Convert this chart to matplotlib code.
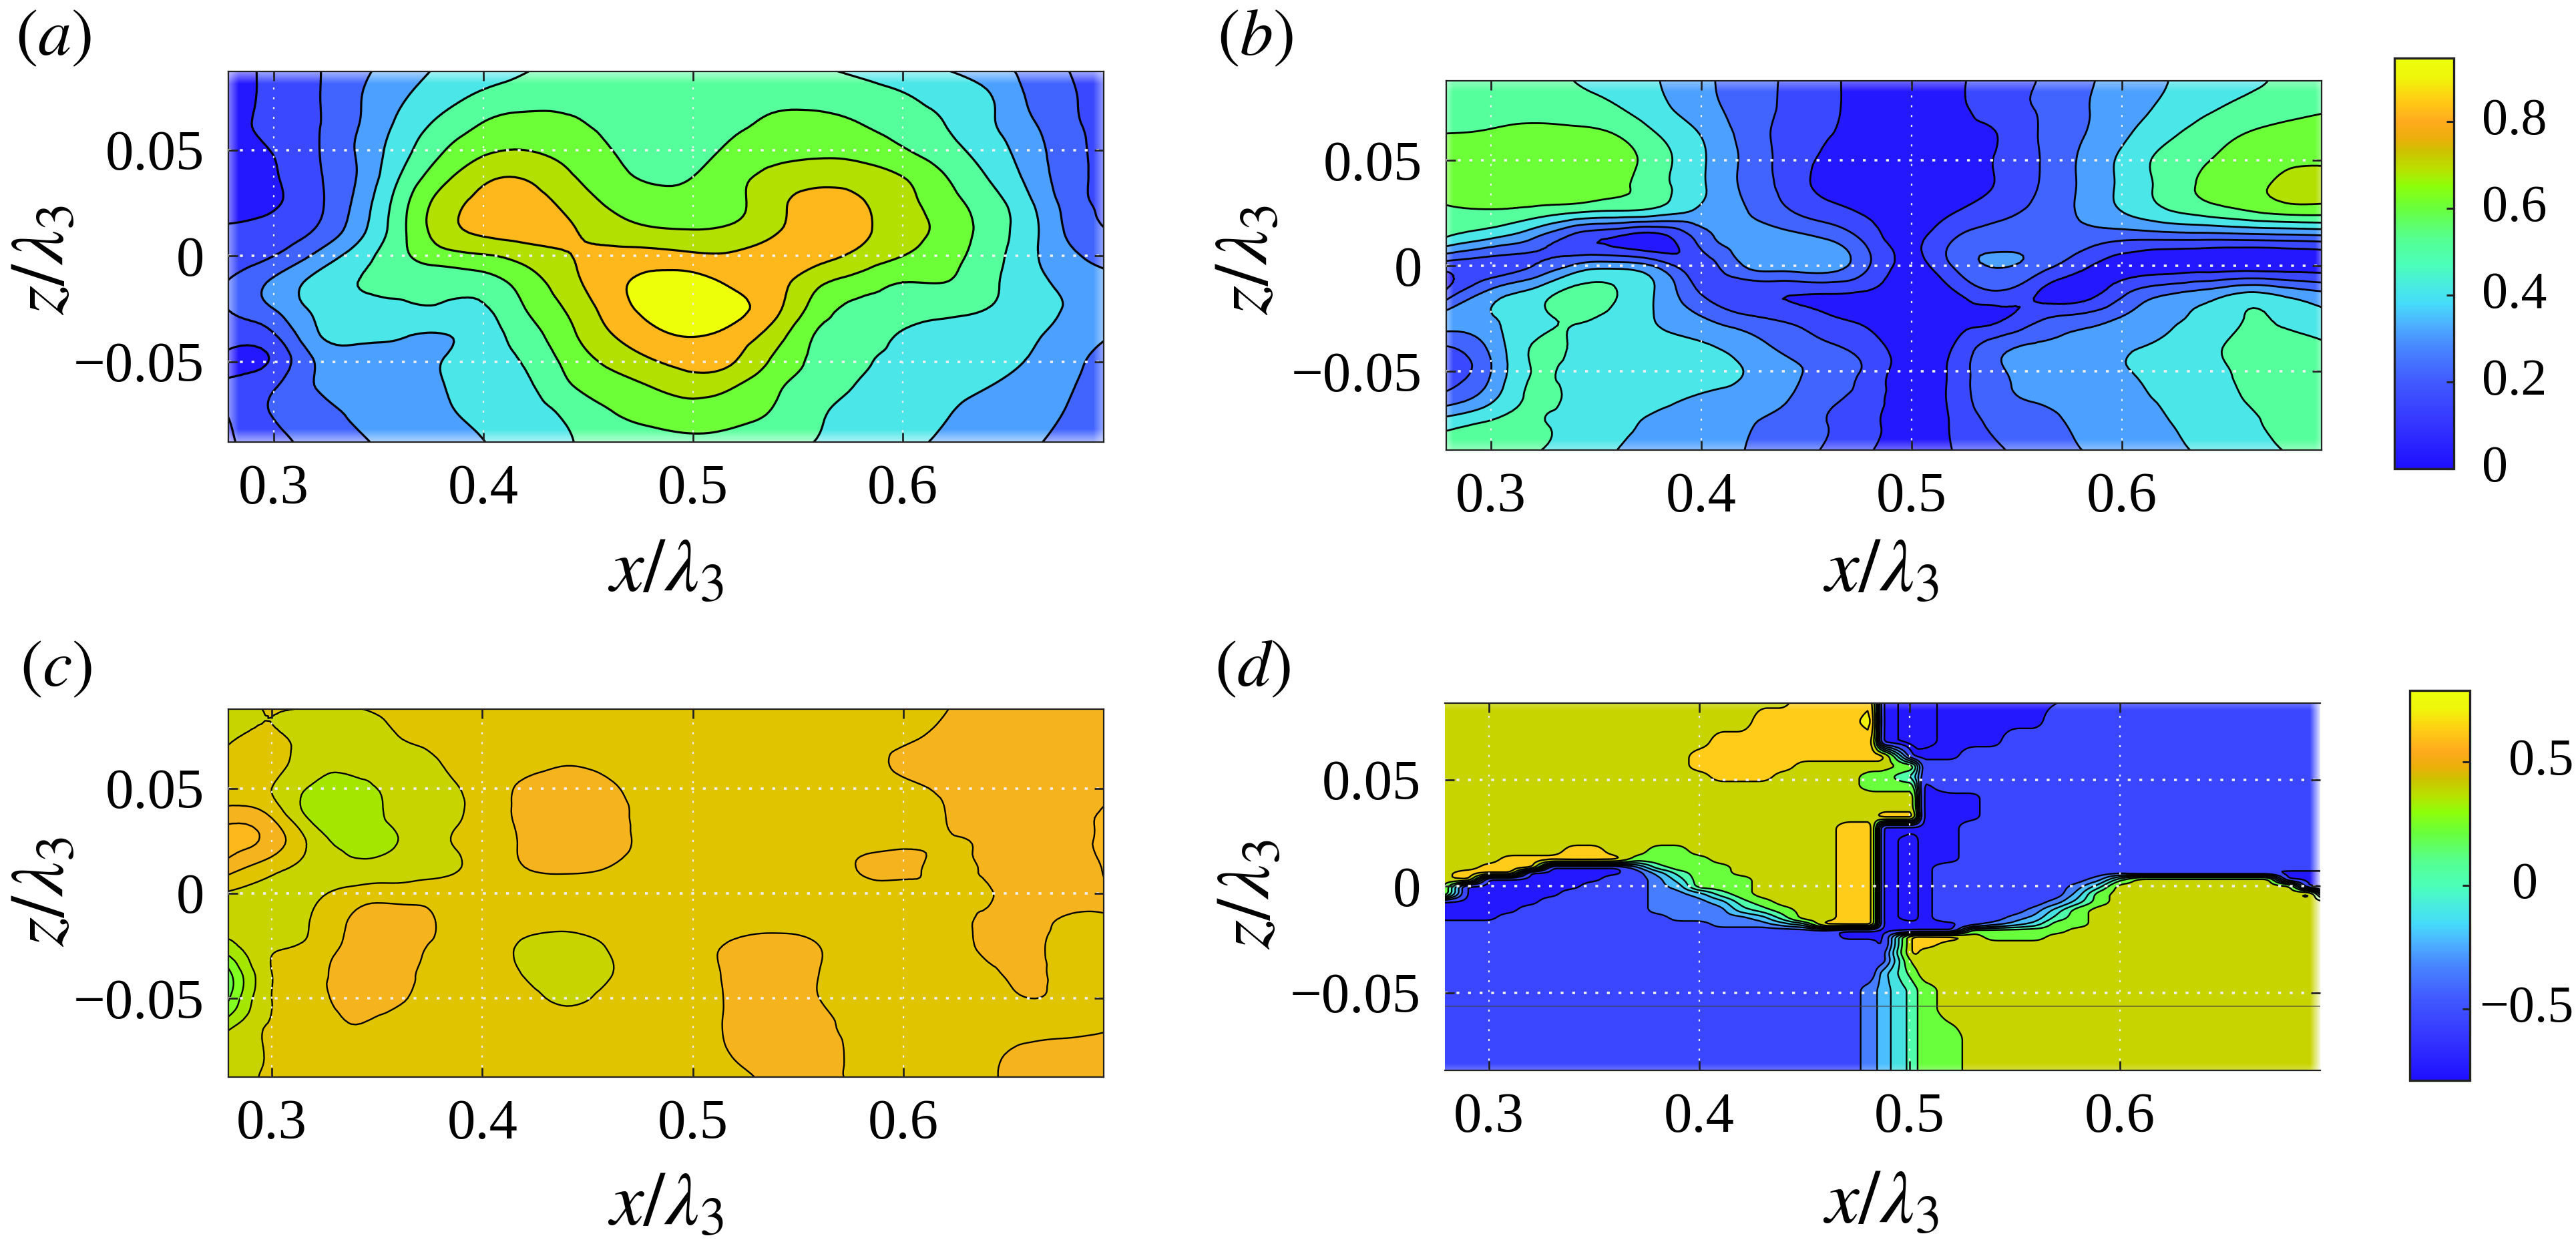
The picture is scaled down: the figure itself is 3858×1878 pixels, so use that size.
#!/usr/bin/env python3
import numpy as np
import matplotlib
matplotlib.use("Agg")
import matplotlib.pyplot as plt
import matplotlib.tri as tri
from matplotlib.cm import ScalarMappable
from matplotlib.colors import LinearSegmentedColormap, Normalize

plt.rcParams['font.family'] = ['Liberation Serif', 'DejaVu Serif']
plt.rcParams['mathtext.fontset'] = 'stix'

W, H = 3858, 1878

x_grid = [0.275, 0.30, 0.32, 0.34, 0.36, 0.38, 0.40, 0.42, 0.44, 0.46, 0.48,
          0.50, 0.52, 0.54, 0.56, 0.58, 0.60, 0.62, 0.64, 0.66, 0.68, 0.70]
z_grid = [0.09, 0.075, 0.0625, 0.05, 0.0375, 0.025, 0.0125, 0.0,
          -0.0125, -0.025, -0.0375, -0.05, -0.0625, -0.075, -0.09]

field_a = [
    [.07, .12, .19, .27, .34, .41, .45, .49, .51, .52, .53, .53, .53, .52, .50, .47, .44, .39, .33, .27, .195, .15],
    [.07, .12, .19, .29, .385, .46, .52, .55, .57, .58, .585, .585, .58, .575, .565, .54, .51, .47, .415, .29, .21, .15],
    [.07, .125, .19, .295, .42, .525, .605, .64, .615, .585, .565, .565, .585, .62, .63, .60, .555, .50, .42, .32, .22, .16],
    [.07, .105, .19, .31, .455, .59, .68, .70, .665, .605, .545, .55, .63, .67, .68, .665, .61, .54, .455, .35, .235, .16],
    [.06, .09, .185, .305, .50, .665, .775, .79, .715, .645, .58, .60, .675, .725, .755, .745, .70, .605, .50, .375, .24, .165],
    [.07, .09, .175, .33, .55, .74, .83, .85, .77, .69, .65, .64, .68, .77, .85, .81, .735, .645, .55, .42, .255, .165],
    [.105, .13, .205, .36, .565, .75, .825, .85, .815, .75, .71, .70, .72, .79, .85, .82, .745, .67, .565, .44, .275, .195],
    [.13, .20, .32, .45, .57, .66, .69, .74, .795, .83, .84, .82, .815, .84, .83, .77, .70, .64, .55, .43, .32, .26],
    [.19, .32, .43, .50, .52, .52, .55, .645, .76, .865, .93, .94, .88, .83, .72, .65, .60, .60, .53, .44, .37, .32],
    [.19, .30, .42, .475, .485, .49, .49, .60, .71, .84, .93, .965, .925, .82, .65, .57, .55, .53, .50, .44, .39, .33],
    [.16, .19, .385, .43, .41, .395, .45, .55, .67, .79, .87, .905, .86, .74, .585, .54, .49, .465, .44, .415, .36, .30],
    [.085, .12, .305, .345, .36, .40, .455, .51, .625, .72, .79, .83, .80, .67, .575, .515, .47, .45, .43, .395, .33, .24],
    [.105, .195, .30, .33, .35, .395, .44, .48, .58, .645, .695, .74, .695, .61, .545, .49, .455, .425, .40, .36, .305, .25],
    [.085, .205, .26, .315, .345, .385, .42, .46, .515, .59, .625, .645, .625, .585, .51, .475, .44, .405, .37, .335, .29, .24],
    [.07, .165, .23, .28, .33, .36, .395, .44, .49, .54, .565, .575, .555, .525, .49, .45, .415, .385, .35, .31, .27, .22],
]

field_b = [
    [.55, .55, .53, .495, .46, .40, .325, .25, .19, .12, .07, .05, .08, .15, .20, .275, .335, .395, .43, .475, .52, .55],
    [.56, .56, .555, .54, .505, .425, .34, .26, .185, .12, .065, .05, .075, .15, .205, .28, .36, .415, .48, .53, .56, .59],
    [.60, .61, .63, .625, .595, .495, .395, .27, .17, .105, .07, .05, .07, .098, .20, .29, .38, .47, .55, .605, .64, .66],
    [.62, .635, .65, .65, .635, .54, .415, .285, .165, .08, .05, .04, .05, .105, .195, .31, .42, .53, .595, .65, .685, .69],
    [.63, .64, .66, .66, .62, .535, .415, .285, .17, .07, .04, .03, .05, .105, .20, .31, .42, .53, .62, .67, .73, .73],
    [.585, .585, .55, .495, .47, .435, .37, .31, .22, .15, .085, .05, .10, .17, .23, .31, .395, .475, .53, .58, .62, .62],
    [.50, .39, .29, .15, .08, .05, .24, .35, .355, .30, .16, .07, .20, .26, .27, .25, .21, .205, .205, .21, .22, .24],
    [.15, .15, .20, .32, .36, .27, .16, .30, .345, .35, .20, .07, .21, .305, .25, .13, .06, .05, .05, .05, .05, .06],
    [.07, .33, .43, .53, .50, .38, .19, .12, .11, .11, .09, .05, .09, .19, .10, .05, .17, .275, .33, .40, .35, .30],
    [.33, .39, .47, .51, .47, .39, .31, .23, .18, .12, .07, .03, .05, .08, .18, .24, .31, .38, .43, .505, .47, .42],
    [.20, .33, .505, .49, .46, .43, .41, .35, .27, .21, .14, .04, .10, .25, .31, .34, .385, .41, .47, .53, .54, .50],
    [.13, .30, .505, .46, .45, .44, .445, .40, .33, .26, .17, .04, .13, .28, .33, .37, .395, .42, .46, .53, .55, .52],
    [.22, .37, .52, .47, .44, .42, .39, .36, .31, .22, .15, .04, .13, .27, .31, .35, .38, .41, .45, .51, .56, .53],
    [.45, .52, .52, .46, .42, .38, .35, .31, .27, .20, .125, .05, .115, .22, .26, .32, .35, .39, .43, .47, .55, .53],
    [.53, .54, .50, .44, .395, .34, .33, .30, .24, .18, .10, .05, .10, .18, .23, .29, .33, .36, .41, .45, .50, .53],
]

field_c = [
    [.72, .755, .755, .755, .77, .77, .775, .78, .78, .78, .78, .78, .78, .78, .78, .78, .78, .795, .83, .84, .84, .84],
    [.72, .76, .72, .72, .75, .77, .775, .78, .78, .78, .78, .78, .78, .78, .78, .785, .79, .815, .835, .84, .84, .84],
    [.76, .77, .72, .715, .72, .75, .775, .78, .795, .785, .78, .78, .78, .78, .78, .785, .81, .83, .835, .84, .84, .84],
    [.77, .75, .69, .68, .72, .74, .77, .81, .83, .81, .78, .78, .78, .78, .78, .78, .79, .81, .835, .84, .84, .845],
    [.82, .79, .68, .665, .715, .735, .77, .81, .83, .825, .78, .78, .78, .78, .78, .785, .79, .80, .835, .84, .84, .86],
    [.87, .83, .73, .685, .70, .74, .775, .805, .83, .825, .78, .78, .78, .78, .78, .785, .79, .795, .81, .84, .84, .87],
    [.84, .77, .73, .71, .72, .735, .77, .80, .81, .80, .78, .78, .78, .78, .78, .805, .815, .785, .81, .84, .84, .86],
    [.75, .73, .74, .77, .775, .78, .78, .78, .78, .78, .78, .78, .78, .78, .78, .78, .78, .79, .795, .835, .84, .84],
    [.72, .72, .755, .81, .825, .795, .775, .775, .775, .775, .775, .775, .775, .78, .78, .78, .78, .785, .81, .82, .79, .795],
    [.67, .74, .765, .82, .825, .79, .775, .74, .72, .755, .775, .78, .81, .82, .80, .78, .78, .78, .81, .81, .78, .775],
    [.54, .75, .79, .825, .825, .775, .775, .745, .715, .745, .775, .78, .815, .83, .80, .78, .78, .78, .79, .81, .78, .775],
    [.545, .75, .785, .825, .81, .775, .775, .77, .74, .765, .775, .78, .81, .83, .80, .78, .78, .78, .78, .80, .78, .775],
    [.66, .755, .775, .80, .775, .775, .775, .775, .775, .775, .775, .78, .81, .83, .815, .78, .775, .775, .775, .775, .78, .795],
    [.715, .755, .775, .775, .775, .775, .775, .775, .775, .775, .775, .78, .805, .83, .83, .78, .775, .775, .785, .815, .825, .83],
    [.72, .76, .775, .775, .775, .775, .775, .775, .775, .775, .775, .78, .785, .815, .825, .785, .775, .775, .79, .83, .84, .84],
]

# panel d is nearly piecewise constant, so it is kept as runs of coded values
d_x = [0.275, 0.29, 0.30, 0.31, 0.32, 0.33, 0.34, 0.35, 0.36, 0.37, 0.38, 0.39, 0.40, 0.41, 0.42,
       0.43, 0.44, 0.45, 0.46, 0.47, 0.482, 0.487, 0.502, 0.506, 0.52, 0.53, 0.54, 0.55, 0.56,
       0.57, 0.58, 0.59, 0.60, 0.61, 0.62, 0.63, 0.64, 0.65, 0.66, 0.67, 0.68, 0.69, 0.70]
d_z = [0.09, 0.0773, 0.0678, 0.0611, 0.0564, 0.0516, 0.0469, 0.0421, 0.0373, 0.0326, 0.0278,
       0.0221, 0.0164, 0.0126, 0.0088, 0.0065, 0.0034, 0.0, -0.0036, -0.0074, -0.0112, -0.015,
       -0.0179, -0.0208, -0.0236, -0.0274, -0.0312, -0.035, -0.0408, -0.0484, -0.0579, -0.0712, -0.09]
d_codes = {'E': -0.85, 'D': -0.75, 'B': -0.6, 'b': -0.42, 'l': -0.28, 'c': -0.12,
           'g': 0.02, 'G': 0.2, 'O': 0.4, 'A': 0.6, 'Y': 0.8}
d_rows = [
    "O17 A4 D1 E2 D6 B13",
    "O15 A5 Y1 D1 E2 D5 B14",
    "O13 A8 D1 E2 D3 B16",
    "O12 A10 D3 B18",
    "O12 A5 O5 G1 B20",
    "O13 A3 O4 G2 c1 B20",
    "O20 G3 D1 B19",
    "O23 D3 B17",
    "O23 D3 B17",
    "O21 A2 D3 B17",
    "O19 A2 D4 B18",
    "O19 A2 D1 E1 D2 B18",
    "O6 A2 O2 G2 O7 A2 D1 E1 D2 B18",
    "O3 A6 G4 O6 A2 D1 E1 D2 B18",
    "O2 A3 D4 b1 g1 G3 O5 A2 D1 E1 D1 B19",
    "O1 A3 D5 B1 l1 g1 G2 O5 A2 D1 E1 D1 B9 D10",
    "O1 A1 D6 B2 b1 c1 G3 O4 A2 D1 E1 D1 B7 b1 g1 O7 D3",
    "A1 D6 B3 b1 l1 G3 O4 A2 D1 E1 D1 B6 b1 c1 O9 D2",
    "A1 D5 B4 b2 l1 g1 G1 O4 A2 D1 E1 D1 B6 l1 G1 O9 A1 D1",
    "D5 B5 b3 l1 g1 G1 O3 A2 D1 E1 D1 B5 b1 c1 G1 O11",
    "D4 B6 b4 c1 g1 G1 O2 A2 D1 E1 D1 B4 b1 c1 G1 O12",
    "D3 B8 b4 l1 g1 O2 A2 D1 E1 D1 B3 b1 l1 g1 G1 O12",
    "B13 b3 l1 c1 A3 D4 B1 b1 l1 c1 G2 O12",
    "B19 D6 G5 O13",
    "B19 D3 A3 O1 G3 O14",
    "B21 D1 A2 O19",
    "B22 A1 O20",
    "B22 O21",
    "B21 l1 G1 O20",
    "B20 b1 l1 g1 G1 O19",
    "B20 b1 l1 g1 G1 O19",
    "B20 b1 l1 g1 G2 O18",
    "B20 b1 l1 g1 G2 O18",
]
d_line_z = -0.0564

levels_ab = [-1, .1, .2, .3, .4, .5, .6, .7, .8, .9, 2]
colors_ab = ['#2418ff', '#3a48ff', '#4164ff', '#4ca0ff', '#4ae6e8',
             '#55ff9b', '#6cff37', '#b2e000', '#ffb81c', '#eeff0a']
levels_c = [-1, .55, .6, .65, .7, .75, .8, .85, 2]
colors_c = ['#50ff60', '#66ff48', '#80ff20', '#a5e600', '#c8d400', '#e0c400', '#f5b41e', '#fdb91c']
levels_d = [-2, -.8, -.7, -.5, -.35, -.2, -.05, .1, .3, .5, .7, 2]
colors_d = ['#2418ff', '#2418ff', '#3a46ff', '#467dff', '#4bbeff', '#46e1e1',
            '#50ffaa', '#69ff3c', '#c8d400', '#ffcd19', '#f0f00a']

bar_values = [0, .1, .2, .28, .33, .38, .42, .47, .53, .6, .65, .69, .73, .76, .8, .85, .9, .945]
bar_colors = ['#1e0fff', '#3434ff', '#415aff', '#4887ff', '#4cafff', '#46dcfa', '#48ebe1',
              '#4bffb9', '#55ff91', '#69ff3c', '#8cff0a', '#b9e100', '#cdc300', '#ebaf0a',
              '#ffaa1e', '#ffcd14', '#f0f50a', '#ebff0a']

x_ticks = [0.3, 0.4, 0.5, 0.6]
x_tick_labels = ['0.3', '0.4', '0.5', '0.6']
z_ticks = [-0.05, 0, 0.05]
z_tick_labels = ['\u22120.05', '0', '0.05']

# panel boxes in pixels: left, right, top, bottom, then axis limits
boxes = {
    'a': (342, 1653, 107, 662, (.2783, .6959), (-.0879, .0872)),
    'b': (2166, 3477, 121, 674, (.2787, .6949), (-.0873, .0877)),
    'c': (342, 1653, 1062, 1613, (.2794, .6951), (-.0875, .0877)),
    'd': (2164, 3475, 1053, 1603, (.279, .6952), (-.0864, .086)),
}

fig = plt.figure(figsize=(W / 100, H / 100), dpi=100)


def px_axes(left, right, top, bottom):
    return fig.add_axes([left / W, 1 - bottom / H, (right - left) / W, (bottom - top) / H])


def fig_text(px, py, s, size, rotation=0):
    fig.text(px / W, 1 - py / H, s, fontsize=size, rotation=rotation, ha='center', va='center')


def style_axes(ax, box):
    ax.set_xlim(box[4])
    ax.set_ylim(box[5])
    ax.set_xticks(x_ticks)
    ax.set_xticklabels(x_tick_labels)
    ax.set_yticks(z_ticks)
    ax.set_yticklabels(z_tick_labels)
    ax.tick_params(direction='in', top=True, right=True, length=10, width=2, color='#222222', labelsize=61)
    ax.tick_params(axis='x', pad=24)
    ax.tick_params(axis='y', pad=26)
    ax.set_axisbelow(False)
    ax.xaxis.grid(True, color='#f0f0f0', lw=1.6, ls=(0, (1.4, 5.2)))
    ax.yaxis.grid(True, color='#f0f0f0', lw=2.6, ls=(0, (1.2, 3.6)))
    for s in ax.spines.values():
        s.set_linewidth(1.6)
        s.set_color('#222222')


def edge_fade(ax, side, frac, alpha):
    ramp = np.linspace(alpha, 0, 24)
    if side in ('left', 'right'):
        rgba = np.ones((1, 24, 4))
        rgba[0, :, 3] = ramp if side == 'left' else ramp[::-1]
        ext = (0, frac, 0, 1) if side == 'left' else (1 - frac, 1, 0, 1)
    else:
        rgba = np.ones((24, 1, 4))
        rgba[:, 0, 3] = ramp if side == 'top' else ramp[::-1]
        ext = (0, 1, 1 - frac, 1) if side == 'top' else (0, 1, 0, frac)
    ax.imshow(rgba, extent=ext, transform=ax.transAxes, aspect='auto', zorder=1.9, interpolation='bilinear')


def smooth_panel(name, field, levels, colors, lw):
    box = boxes[name]
    ax = px_axes(*box[:4])
    X, Z = np.meshgrid(x_grid, z_grid)
    values = np.array(field).ravel()
    mesh = tri.Triangulation(X.ravel(), Z.ravel())
    fine, fine_v = tri.UniformTriRefiner(mesh).refine_field(values, subdiv=3)
    ax.tricontourf(fine, fine_v, levels=levels, colors=colors)
    ax.tricontour(fine, fine_v, levels=levels[1:-1], colors='black', linewidths=lw)
    style_axes(ax, box)
    return ax


def expand_row(row):
    out = []
    for run in row.split():
        out += [d_codes[run[0]]] * int(run[1:])
    assert len(out) == len(d_x), row
    return out


def blur(values, n, axis):
    # box filter, only to round the stair steps of the coarse coded grid
    kernel = np.ones(n) / n
    def run(v):
        return np.convolve(np.pad(v, n, mode='edge'), kernel, mode='same')[n:-n]
    return np.apply_along_axis(run, axis, values)


def panel_d():
    box = boxes['d']
    ax = px_axes(*box[:4])
    values = np.array([expand_row(r) for r in d_rows])
    xf = np.linspace(d_x[0], d_x[-1], 426)
    zf = np.linspace(d_z[-1], d_z[0], 361)
    by_x = np.array([np.interp(xf, d_x, row) for row in values])
    fine = np.array([np.interp(zf, d_z[::-1], col[::-1]) for col in by_x.T]).T
    fine = blur(blur(fine, 5, 1), 5, 0)
    ax.contourf(xf, zf, fine, levels=levels_d, colors=colors_d)
    ax.contour(xf, zf, fine, levels=levels_d[1:-1], colors='black', linewidths=1.7, linestyles='solid')
    ax.axhline(d_line_z, color='#444444', lw=1.2, alpha=0.7, zorder=2.2)
    style_axes(ax, box)
    ax.spines['left'].set_visible(False)
    ax.spines['right'].set_visible(False)
    return ax


def add_bar(box, vmin, vmax, ticks, labels, right_x, left_x):
    cmap = LinearSegmentedColormap.from_list(
        'bar', [(v / bar_values[-1], c) for v, c in zip(bar_values, bar_colors)], N=512)
    cax = px_axes(*box)
    cb = fig.colorbar(ScalarMappable(Normalize(vmin, vmax), cmap), cax=cax)
    cb.set_ticks(ticks)
    cb.set_ticklabels([''] * len(ticks))
    cb.ax.tick_params(direction='in', right=True, length=8, width=2.2, color='#222222')
    cb.outline.set_linewidth(2.4)
    cb.outline.set_edgecolor('#222222')
    for t, s in zip(ticks, labels):
        # single digits start at left_x, the longer labels end at right_x
        if len(s) > 1 and right_x is not None:
            off, ha = (right_x - box[1]) * 0.72, 'right'
        else:
            off, ha = (left_x - box[1]) * 0.72, 'left'
        cax.annotate(s, xy=(1, t), xycoords=cax.get_yaxis_transform(), xytext=(off, 0),
                     textcoords='offset points', ha=ha, va='center', fontsize=56)


ax_a = smooth_panel('a', field_a, levels_ab, colors_ab, 2.3)
ax_b = smooth_panel('b', field_b, levels_ab, colors_ab, 2.0)
ax_c = smooth_panel('c', field_c, levels_c, colors_c, 1.7)
ax_d = panel_d()

for side in ('top', 'bottom'):
    edge_fade(ax_a, side, 0.035, 0.55)
    edge_fade(ax_b, side, 0.03, 0.35)
    edge_fade(ax_d, side, 0.02, 0.25)
for side in ('left', 'right'):
    edge_fade(ax_a, side, 0.012, 0.45)
    edge_fade(ax_b, side, 0.008, 0.4)
edge_fade(ax_d, 'right', 0.012, 0.85)

add_bar((3586, 3675, 87, 702), 0, .947, [0, .2, .4, .6, .8], ['0', '0.2', '0.4', '0.6', '0.8'], None, 3717)
add_bar((3609, 3699, 1034, 1618), -.79, .79, [-.5, 0, .5], ['\u22120.5', '0', '0.5'], 3854, 3762)

fig_text(80, 58, r'$(\mathit{a})$', 72)
fig_text(1880, 58, r'$(\mathit{b})$', 72)
fig_text(84, 1003, r'$(\mathit{c})$', 72)
fig_text(1876, 1003, r'$(\mathit{d})$', 72)

for px, py in [(997, 857), (2817, 857), (997, 1806), (2817, 1803)]:
    fig_text(px, py, r'$x/\lambda_3$', 82)
for px, py in [(67, 390), (1870, 390), (67, 1336), (1873, 1340)]:
    fig_text(px, py, r'$z/\lambda_3$', 82, rotation=90)

fig.savefig("out.png", dpi=100)
